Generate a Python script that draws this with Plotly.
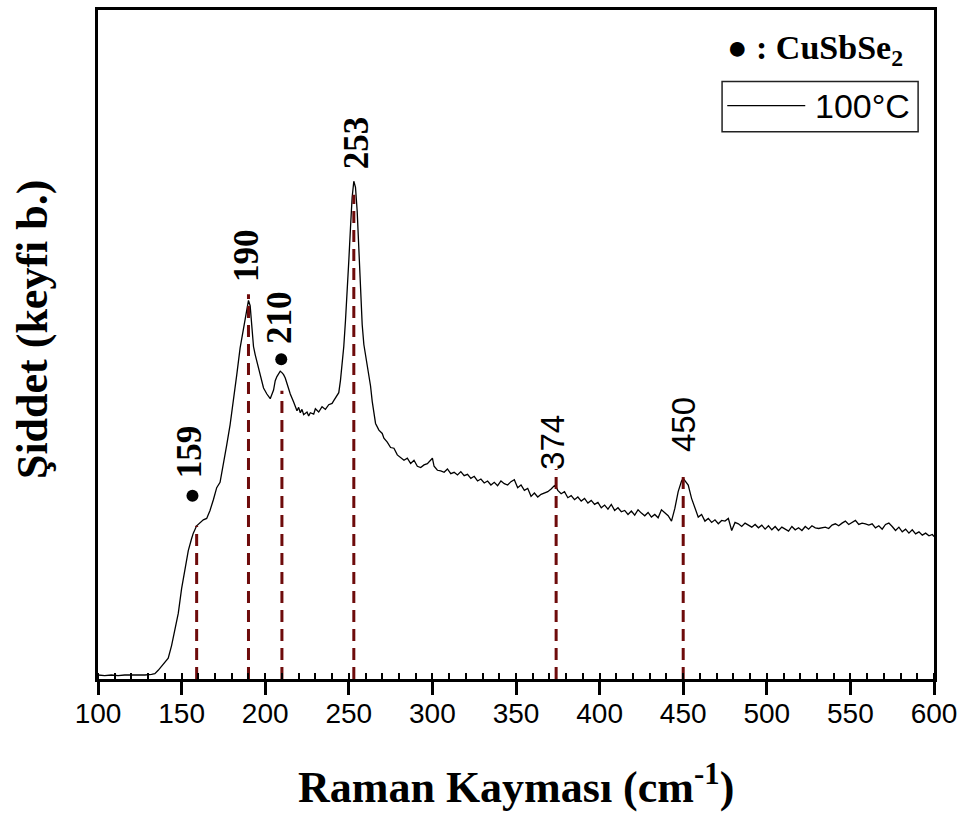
import plotly.graph_objects as go

# Raman spectrum of the film annealed at 100 °C (arbitrary intensity units)
raman_shift = [
    100, 104, 108, 112, 116, 120, 124, 128, 132, 134,
    136, 138, 140, 142, 144, 145, 146, 148, 150, 151, 152, 154, 156, 157, 159,
    161, 163, 165, 167, 169, 171, 173, 175, 177, 179, 181, 183, 185, 186, 187,
    188, 189, 190, 191, 192, 193, 194, 195, 197, 199, 201, 203, 205, 206, 207,
    209, 210, 211, 212, 214, 215, 217, 219, 220, 221, 222, 223, 225, 226, 227,
    229, 230, 232, 234, 235, 236, 238, 240, 241, 242, 244, 245, 246, 247, 248,
    249, 250, 251, 252, 253, 254, 255, 256, 257, 258, 259, 260, 261, 262, 263,
    264, 265, 266, 268, 270, 271, 273, 275, 277, 279, 281, 283, 285, 287, 289,
    291, 293, 295, 297, 299, 300, 301, 303, 305, 307, 309, 311, 313, 315, 317,
    319, 321, 323, 325, 327, 329, 331, 333, 335, 337, 339, 341, 343, 345, 347,
    349, 351, 353, 355, 357, 359, 361, 363, 365, 367, 369, 371, 373, 374, 375,
    377, 379, 381, 383, 385, 387, 389, 391, 393, 395, 397, 399, 401, 403, 405,
    407, 409, 411, 413, 415, 417, 419, 421, 423, 425, 427, 429, 431, 433, 435,
    437, 439, 441, 443, 445, 447, 449, 450, 451, 453, 455, 457, 459, 461, 463,
    465, 467, 469, 471, 473, 475, 477, 479, 481, 483, 485, 487, 489, 491, 493,
    495, 497, 499, 501, 503, 505, 507, 509, 511, 513, 515, 517, 519, 521, 523,
    525, 527, 529, 531, 533, 535, 537, 539, 541, 543, 545, 547, 549, 551, 553,
    555, 557, 559, 561, 563, 565, 567, 569, 571, 573, 575, 577, 579, 581, 583,
    585, 587, 589, 591, 593, 595, 597, 599, 600,
]
intensity = [
    6, 5, 6, 5, 6, 6, 5, 6, 7, 8,
    13, 19, 25, 31, 50, 63, 75, 98, 135, 150, 165, 192, 210, 218, 229,
    234, 238, 240, 252, 268, 286, 294, 320, 350, 380, 415, 455, 495, 510, 525,
    540, 556, 566, 558, 522, 497, 485, 475, 452, 435, 426, 419, 432, 446, 452,
    460, 458, 455, 450, 432, 426, 414, 401, 406, 398, 403, 395, 399, 393, 398,
    396, 404, 399, 407, 405, 403, 410, 412, 416, 420, 428, 446, 470, 497, 535,
    575, 625, 674, 720, 744, 735, 700, 640, 580, 530, 500, 485, 470, 455, 438,
    415, 398, 382, 372, 367, 360, 354, 346, 345, 335, 331, 327, 330, 322, 327,
    318, 316, 320, 322, 328, 330, 318, 312, 311, 309, 314, 307, 309, 305, 310,
    304, 306, 300, 303, 296, 299, 293, 296, 290, 294, 289, 296, 292, 290, 295,
    298, 286, 290, 282, 285, 273, 278, 272, 276, 278, 280, 284, 289, 287, 282,
    277, 280, 271, 274, 268, 272, 266, 270, 263, 267, 261, 264, 256, 260, 254,
    261, 252, 256, 250, 252, 246, 251, 245, 253, 248, 244, 249, 242, 246, 241,
    253, 248, 244, 236, 255, 280, 296, 300, 297, 290, 270, 255, 242, 246, 236,
    240, 234, 238, 232, 237, 236, 240, 222, 234, 232, 228, 233, 230, 227, 231,
    226, 230, 224, 229, 223, 228, 222, 227, 224, 221, 228, 223, 226, 222, 228,
    224, 229, 226, 225, 226, 227, 225, 230, 232, 229, 233, 236, 231, 234, 237,
    231, 233, 232, 230, 232, 226, 229, 224, 231, 233, 228, 222, 227, 220, 224,
    218, 223, 217, 220, 215, 218, 214, 216, 213,
]

# Assigned Raman modes: position, height of the guide line, label placement
peak_pos = [159, 190, 210, 253, 374, 450]
peak_line_top = [229, 575, 431, 724, 314, 304]
peak_label_y = [340, 633, 541, 802, 353, 380]
peak_label_dx = [-7, -2, -3, 3, -3, 1]
peak_label_serif = [True, True, True, True, False, False]

# CuSbSe2 phase markers
phase_x = [156.5, 209.6]
phase_y = [274, 478]

x_ticks = [100, 150, 200, 250, 300, 350, 400, 450, 500, 550, 600]

LINE_RED = "#6E0B0B"

fig = go.Figure()

fig.add_trace(go.Scatter(
    x=raman_shift, y=intensity, mode="lines", name="100°C",
    line=dict(color="black", width=1.3), showlegend=False,
))

for pos, top in zip(peak_pos, peak_line_top):
    fig.add_trace(go.Scatter(
        x=[pos, pos], y=[0, top], mode="lines", showlegend=False,
        line=dict(color=LINE_RED, width=3, dash="12px,7px"),
    ))

fig.add_trace(go.Scatter(
    x=phase_x, y=phase_y, mode="markers", showlegend=False,
    marker=dict(color="black", size=12, symbol="circle"),
))

for pos, ly, dx, serif in zip(peak_pos, peak_label_y, peak_label_dx, peak_label_serif):
    if serif:
        label = "<b>%d</b>" % pos
        font = dict(family="Liberation Serif", size=35, color="black")
    else:
        label = str(pos)
        font = dict(family="Liberation Sans", size=33, color="black")
    fig.add_annotation(
        x=pos, y=ly, xref="x", yref="y", text=label, showarrow=False,
        textangle=-90, xshift=dx, xanchor="center", yanchor="middle",
        font=font,
    )

# Legend block drawn in the upper-right corner
fig.add_annotation(
    x=0.858, y=0.94, xref="paper", yref="paper", showarrow=False,
    xanchor="center", yanchor="middle",
    text="<b>● : CuSbSe<sub>2</sub></b>",
    font=dict(family="Liberation Serif", size=34, color="black"),
)
fig.add_shape(type="rect", xref="paper", yref="paper",
              x0=0.7465, x1=0.981, y0=0.818, y1=0.893,
              line=dict(color="#222222", width=1.5))
fig.add_shape(type="line", xref="paper", yref="paper",
              x0=0.7527, x1=0.846, y0=0.857, y1=0.857,
              line=dict(color="black", width=1.3))
fig.add_annotation(
    x=0.9145, y=0.856, xref="paper", yref="paper", showarrow=False,
    xanchor="center", yanchor="middle",
    text="100°C", font=dict(family="Liberation Sans", size=34, color="black"),
)

# Axis titles
fig.add_annotation(
    x=0.5, y=-0.158, xref="paper", yref="paper", showarrow=False,
    xanchor="center", yanchor="middle",
    text="<b>Raman Kayması (cm<sup>-1</sup>)</b>",
    font=dict(family="Liberation Serif", size=44, color="black"),
)
fig.add_annotation(
    x=-0.0786, y=0.522, xref="paper", yref="paper", showarrow=False,
    xanchor="center", yanchor="middle",
    text="<b>Şiddet (keyfi b.)</b>", textangle=-90,
    font=dict(family="Liberation Serif", size=44, color="black"),
)

fig.update_layout(
    width=965, height=814,
    margin=dict(l=98, r=31, t=7, b=135),
    paper_bgcolor="white", plot_bgcolor="white",
    showlegend=False,
)
fig.update_xaxes(
    range=[100, 600], tickvals=x_ticks, ticktext=[str(v) for v in x_ticks],
    showgrid=False, zeroline=False,
    showline=True, linecolor="black", linewidth=2.5, mirror=True,
    ticks="outside", ticklen=13, tickwidth=2.5, tickcolor="black",
    ticklabelstandoff=-5,
    tickfont=dict(family="Liberation Sans", size=28, color="black"),
    minor=dict(dtick=10, tick0=100, ticks="inside", ticklen=6,
               tickwidth=2, tickcolor="black", showgrid=False),
)
fig.update_yaxes(
    range=[0, 1000], showticklabels=False, ticks="",
    showgrid=False, zeroline=False,
    showline=True, linecolor="black", linewidth=2.5, mirror=True,
)

fig.write_html("out.html")
